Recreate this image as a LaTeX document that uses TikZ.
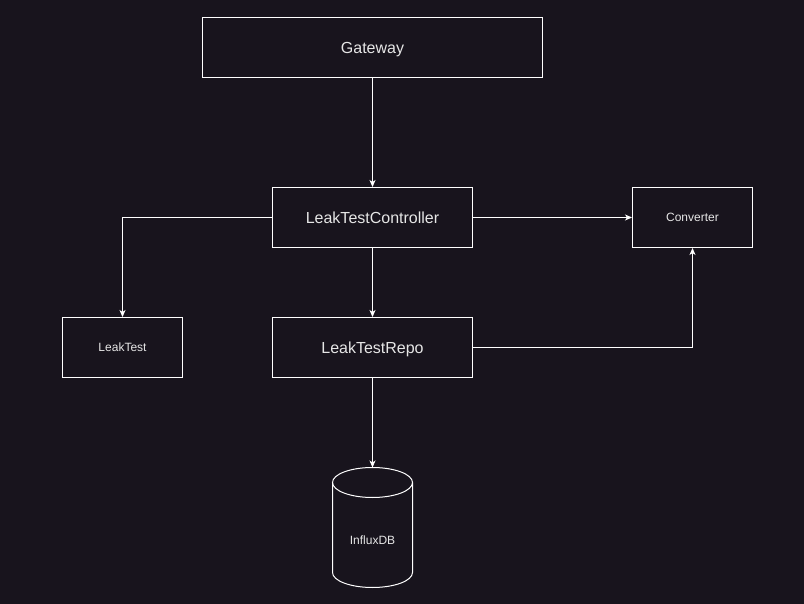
\documentclass[tikz,border=0pt]{standalone}
\usepackage{fontspec}
\setmainfont{Liberation Sans}
\usetikzlibrary{arrows.meta}
\definecolor{bg}{HTML}{18141D}
\definecolor{txt}{HTML}{E6E6E6}
\tikzset{
  box/.style={draw=white, line width=1pt, text=txt, inner sep=0pt, text depth=0pt},
  big/.style={font=\fontsize{16}{19}\selectfont, text height=11.5pt},
  small/.style={font=\fontsize{12}{14}\selectfont, text height=8.6pt},
  conn/.style={draw=white, line width=1pt, -{Stealth[length=7pt,width=6pt,inset=2pt]}},
}
\begin{document}
\begin{tikzpicture}[x=1pt,y=-1pt]
\fill[bg] (0,0) rectangle (804,604);
\useasboundingbox (0,0) rectangle (804,604);
\node[box,big,minimum width=340pt,minimum height=60pt] (gw) at (372.5,47.5) {Gateway};
\node[box,big,minimum width=200pt,minimum height=60pt] (ltc) at (372.5,217.5) {LeakTestController};
\node[box,small,minimum width=120pt,minimum height=60pt] (conv) at (692.5,217.5) {Converter};
\node[box,small,minimum width=120pt,minimum height=60pt] (lt) at (122.5,347.5) {LeakTest};
\node[box,big,minimum width=200pt,minimum height=60pt] (repo) at (372.5,347.5) {LeakTestRepo};
% cylinder
\coordinate (dbtop) at (372.5,467.5);
\draw[white,line width=1pt] (332.5,482.5) -- (332.5,572.5) arc[start angle=180,end angle=360,x radius=40,y radius=-15] -- (412.5,482.5);
\draw[white,line width=1pt] (372.5,482.5) ellipse[x radius=40,y radius=15];
\node[text=txt,font=\fontsize{12}{14}\selectfont,inner sep=0pt,text height=8.6pt,text depth=0pt] (db) at (372.5,540) {InfluxDB};
\draw[conn] (gw.south) -- (ltc.north);
\draw[conn] (ltc.west) -| (lt.north);
\draw[conn] (ltc.east) -- (conv.west);
\draw[conn] (ltc.south) -- (repo.north);
\draw[conn] (repo.east) -| (conv.south);
\draw[conn] (repo.south) -- (dbtop);
\end{tikzpicture}
\end{document}
